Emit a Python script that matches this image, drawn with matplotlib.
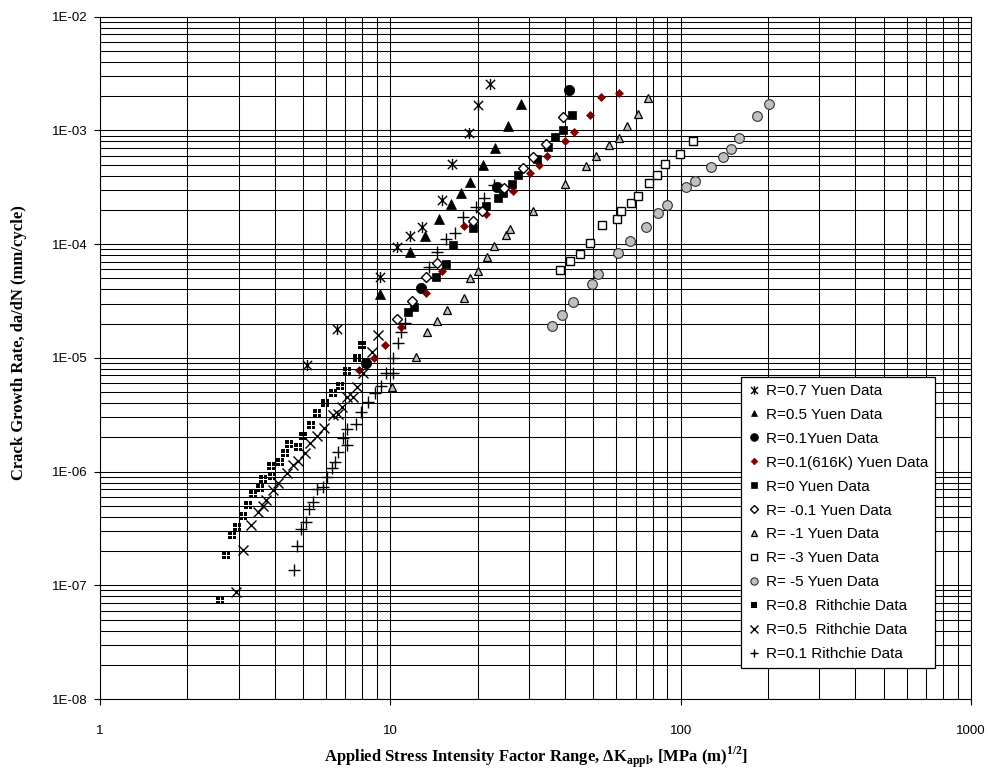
import matplotlib
matplotlib.use("Agg")
import matplotlib.pyplot as plt
from matplotlib.path import Path
from matplotlib.ticker import LogLocator, FuncFormatter, NullFormatter

plt.rcParams['font.family'] = ['Liberation Sans', 'DejaVu Sans']

# --- data (dK in MPa m^0.5, da/dN in mm/cycle) ---
r07_dk = [5.15, 6.57, 9.24, 10.52, 11.69, 12.81, 15.11, 16.36, 18.71, 20.10, 21.97]
r07_da = [8.64e-6, 1.79e-5, 5.17e-5, 9.49e-5, 1.19e-4, 1.41e-4, 2.44e-4, 5.03e-4, 9.54e-4, 1.66e-3, 2.55e-3]

r05_dk = [9.22, 11.65, 13.12, 14.66, 16.19, 17.45, 18.82, 20.91, 22.85, 25.33, 28.28]
r05_da = [3.64e-5, 8.52e-5, 1.18e-4, 1.66e-4, 2.25e-4, 2.81e-4, 3.52e-4, 5.01e-4, 7.07e-4, 1.09e-3, 1.71e-3]

r01_dk = [8.23, 12.71, 23.27, 41.26]
r01_da = [9.06e-6, 4.08e-5, 3.15e-4, 2.27e-3]

r01k_dk = [7.82, 8.79, 9.61, 10.89, 13.25, 15.11, 17.87, 21.41, 26.36, 30.17, 32.59, 34.71,
           39.88, 43.04, 48.55, 53.33, 61.33]
r01k_da = [7.81e-6, 9.90e-6, 1.30e-5, 1.85e-5, 3.73e-5, 5.86e-5, 1.44e-4, 1.84e-4, 2.96e-4,
           4.22e-4, 4.93e-4, 6.01e-4, 8.07e-4, 9.68e-4, 1.38e-3, 1.98e-3, 2.15e-3]

r0_dk = [11.53, 12.10, 14.37, 15.51, 16.48, 19.27, 21.41, 23.55, 24.51, 26.30, 27.60, 31.94,
         34.79, 36.78, 39.26, 42.37]
r0_da = [2.53e-5, 2.81e-5, 5.17e-5, 6.71e-5, 9.82e-5, 1.38e-4, 2.16e-4, 2.55e-4, 2.80e-4,
         3.36e-4, 4.03e-4, 5.57e-4, 7.10e-4, 8.72e-4, 1.01e-3, 1.36e-3]

rm01_dk = [10.52, 11.83, 13.27, 14.52, 19.32, 20.64, 24.70, 28.60, 30.90, 34.33, 39.35]
rm01_da = [2.19e-5, 3.19e-5, 5.16e-5, 6.89e-5, 1.59e-4, 1.94e-4, 3.11e-4, 4.70e-4, 5.78e-4,
           7.64e-4, 1.31e-3]

rm1_dk = [10.16, 12.29, 13.41, 14.52, 15.62, 17.97, 18.82, 20.02, 21.45, 22.68, 25.03, 25.88,
          30.90, 39.82, 47.11, 50.92, 56.57, 61.10, 65.11, 71.24, 76.91]
rm1_da = [5.57e-6, 1.01e-5, 1.69e-5, 2.12e-5, 2.66e-5, 3.39e-5, 4.99e-5, 5.77e-5, 7.75e-5,
          9.56e-5, 1.20e-4, 1.36e-4, 1.96e-4, 3.36e-4, 4.86e-4, 5.99e-4, 7.44e-4, 8.61e-4,
          1.09e-3, 1.40e-3, 1.92e-3]

rm3_dk = [38.48, 41.59, 44.97, 48.86, 53.76, 60.28, 62.42, 67.58, 71.44, 77.64, 83.07, 88.59,
          99.77, 110.2]
rm3_da = [5.88e-5, 7.06e-5, 8.27e-5, 1.02e-4, 1.47e-4, 1.68e-4, 1.97e-4, 2.28e-4, 2.65e-4,
          3.42e-4, 4.08e-4, 5.09e-4, 6.16e-4, 8.12e-4]

rm5_dk = [36.14, 38.94, 42.59, 49.41, 51.94, 60.96, 67.10, 75.69, 83.40, 90.0, 104.4, 112.1,
          127.2, 140.3, 149.5, 159.3, 183.7, 202.2]
rm5_da = [1.90e-5, 2.39e-5, 3.08e-5, 4.47e-5, 5.46e-5, 8.40e-5, 1.06e-4, 1.42e-4, 1.87e-4,
          2.22e-4, 3.17e-4, 3.60e-4, 4.78e-4, 5.80e-4, 6.90e-4, 8.57e-4, 1.33e-3, 1.71e-3]

rit08_dk = [2.60, 2.72, 2.84, 2.96, 3.10, 3.24, 3.37, 3.56, 3.65, 3.88, 3.92, 4.17, 4.34, 4.49,
            4.82, 5.01, 5.34, 5.58, 5.96, 6.33, 6.71, 7.11, 7.66, 8.01]
rit08_da = [7.36e-8, 1.84e-7, 2.76e-7, 3.27e-7, 4.06e-7, 5.07e-7, 6.30e-7, 7.12e-7, 8.54e-7,
            1.12e-6, 9.13e-7, 1.22e-6, 1.46e-6, 1.73e-6, 1.65e-6, 2.05e-6, 2.56e-6, 3.30e-6,
            3.98e-6, 4.87e-6, 5.68e-6, 7.65e-6, 9.90e-6, 1.30e-5]

rit05_dk = [2.93, 3.10, 3.31, 3.51, 3.65, 3.72, 3.93, 4.11, 4.40, 4.63, 4.82, 5.08, 5.29, 5.61,
            5.93, 6.36, 6.59, 6.83, 7.08, 7.46, 7.70, 8.03, 8.67, 9.07]
rit05_da = [8.77e-8, 2.04e-7, 3.38e-7, 4.43e-7, 5.00e-7, 5.62e-7, 6.88e-7, 7.97e-7, 9.64e-7,
            1.14e-6, 1.24e-6, 1.45e-6, 1.79e-6, 2.07e-6, 2.44e-6, 3.14e-6, 3.18e-6, 3.67e-6,
            4.55e-6, 4.55e-6, 5.57e-6, 7.31e-6, 1.13e-5, 1.59e-5]

rit01_dk = [4.66, 4.78, 4.91, 5.12, 5.26, 5.40, 5.58, 5.88, 6.04, 6.28, 6.45, 6.62, 7.08, 6.89,
            7.08, 7.60, 7.93, 8.36, 8.84, 9.29, 9.66, 10.24, 10.24, 10.66, 10.86, 11.19, 13.62,
            14.52, 15.56, 16.71, 17.85, 19.66, 21.06, 22.82]
rit01_da = [1.36e-7, 2.21e-7, 3.10e-7, 3.57e-7, 4.65e-7, 5.36e-7, 6.97e-7, 7.26e-7, 8.89e-7,
            1.07e-6, 1.22e-6, 1.49e-6, 1.71e-6, 1.96e-6, 2.35e-6, 2.62e-6, 3.32e-6, 4.11e-6,
            4.93e-6, 5.65e-6, 7.31e-6, 7.31e-6, 9.90e-6, 1.34e-5, 1.70e-5, 2.02e-5, 6.33e-5,
            8.47e-5, 1.10e-4, 1.26e-4, 1.72e-4, 2.14e-4, 2.56e-4, 3.28e-4]

# --- custom markers ---
star_marker = Path([(-1, -1), (1, 1), (-1, 1), (1, -1), (0, -1.2), (0, 1.2)],
                   [Path.MOVETO, Path.LINETO, Path.MOVETO, Path.LINETO, Path.MOVETO, Path.LINETO])
sq = lambda x0, y0: Path([(x0, y0), (x0 + 0.88, y0), (x0 + 0.88, y0 + 0.88), (x0, y0 + 0.88), (x0, y0)],
                         [Path.MOVETO, Path.LINETO, Path.LINETO, Path.LINETO, Path.CLOSEPOLY])
grid_marker = Path.make_compound_path(sq(-1, -1), sq(0.12, -1), sq(-1, 0.12), sq(0.12, 0.12))

fig = plt.figure(figsize=(9.88, 7.73), dpi=100)
ax = fig.add_axes([100 / 988, 74 / 773, 871 / 988, 682.3 / 773])
ax.set_xscale('log')
ax.set_yscale('log')

red = '#7f0000'
grey = '#c0c0c0'
series = [
    (r07_dk, r07_da, dict(marker=star_marker, ms=8, mfc='none', mec='black', mew=1.0), 'R=0.7 Yuen Data'),
    (r05_dk, r05_da, dict(marker='^', ms=6.5, mfc='black', mec='black', mew=0.5), 'R=0.5 Yuen Data'),
    (r01_dk, r01_da, dict(marker='o', ms=7.5, mfc='black', mec='black', mew=0.5), 'R=0.1Yuen Data'),
    (r01k_dk, r01k_da, dict(marker='D', ms=4.5, mfc=red, mec=red, mew=0.5), 'R=0.1(616K) Yuen Data'),
    (r0_dk, r0_da, dict(marker='s', ms=5.5, mfc='black', mec='black', mew=0.5), 'R=0 Yuen Data'),
    (rm01_dk, rm01_da, dict(marker='D', ms=5, mfc='white', mec='black', mew=1.0), 'R= -0.1 Yuen Data'),
    (rm1_dk, rm1_da, dict(marker='^', ms=5.5, mfc=grey, mec='black', mew=0.9), 'R= -1 Yuen Data'),
    (rm3_dk, rm3_da, dict(marker='s', ms=5.5, mfc='white', mec='black', mew=1.0), 'R= -3 Yuen Data'),
    (rm5_dk, rm5_da, dict(marker='o', ms=7, mfc=grey, mec='#303030', mew=0.8), 'R= -5 Yuen Data'),
    (rit08_dk, rit08_da, dict(marker=grid_marker, ms=6, mfc='black', mec='none', mew=0), 'R=0.8  Rithchie Data'),
    (rit05_dk, rit05_da, dict(marker='x', ms=7, mfc='none', mec='black', mew=1.0), 'R=0.5  Rithchie Data'),
    (rit01_dk, rit01_da, dict(marker='+', ms=8, mfc='none', mec='black', mew=1.0), 'R=0.1 Rithchie Data'),
]
for dk, da, style, label in series:
    ax.plot(dk, da, linestyle='none', label=label, zorder=3, **style)

ax.set_xlim(1, 1000)
ax.set_ylim(1e-8, 1e-2)

ax.xaxis.set_minor_locator(LogLocator(base=10, subs=range(2, 10)))
ax.yaxis.set_minor_locator(LogLocator(base=10, subs=range(2, 10)))
ax.xaxis.set_minor_formatter(NullFormatter())
ax.yaxis.set_minor_formatter(NullFormatter())
ax.xaxis.set_major_formatter(FuncFormatter(lambda v, _: f"{v:g}"))
ax.yaxis.set_major_formatter(FuncFormatter(lambda v, _: f"{v:.0E}"))
ax.xaxis.get_offset_text().set_visible(False)
ax.yaxis.get_offset_text().set_visible(False)
ax.grid(which='both', color='black', linewidth=0.75)
ax.set_axisbelow(True)
ax.tick_params(which='minor', length=0)
ax.tick_params(axis='y', which='major', length=4, width=0.8, pad=5, labelsize=9.5)
ax.tick_params(axis='x', which='major', length=4, width=0.8, pad=15, labelsize=9.5)
for s in ax.spines.values():
    s.set_color('black')
    s.set_linewidth(0.8)

ax.set_ylabel('Crack Growth Rate, da/dN (mm/cycle)', family='Liberation Serif',
              fontweight='bold', fontsize=12)
ax.yaxis.set_label_coords(-0.084, 0.522)
ax.set_xlabel(r'Applied Stress Intensity Factor Range, ΔK$_{\mathregular{appl}}$, '
              r'[MPa (m)$^{\mathregular{1/2}}$]', family='Liberation Serif',
              fontweight='bold', fontsize=12, labelpad=5)

leg = ax.legend(loc='lower right', bbox_to_anchor=(0.9587, 0.0454), fontsize=11,
                frameon=True, fancybox=False, framealpha=1, edgecolor='black',
                borderpad=0.45, labelspacing=0.65, handlelength=0.9, handletextpad=0.3,
                borderaxespad=0, markerscale=0.75)
leg.get_frame().set_linewidth(0.9)

fig.savefig('out.png', dpi=100)
